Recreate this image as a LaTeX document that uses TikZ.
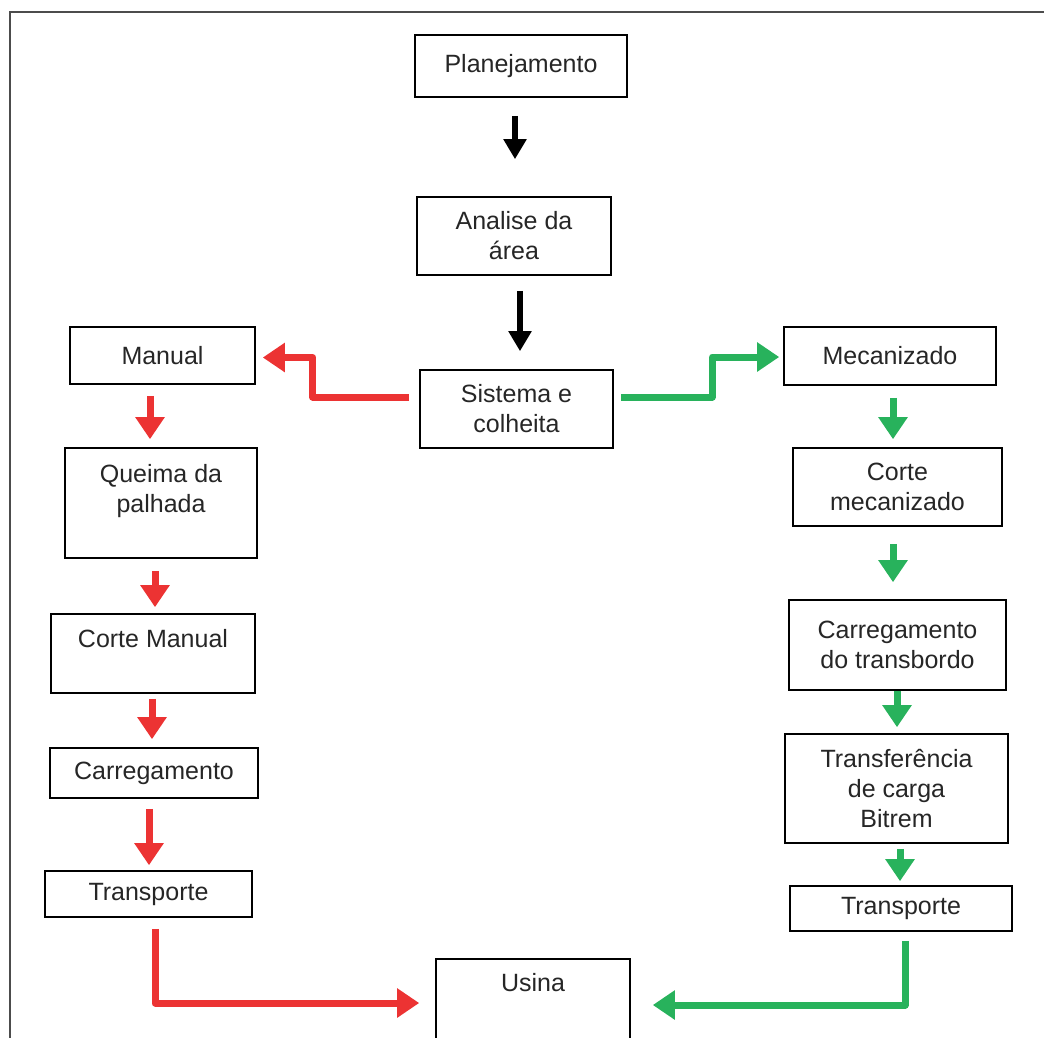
\documentclass[tikz,border=0pt]{standalone}
\usepackage{fontspec}
\setmainfont{Liberation Sans}
\usetikzlibrary{arrows.meta}
\definecolor{redline}{RGB}{236,51,51}
\definecolor{greenline}{RGB}{40,178,92}

\begin{document}
\begin{tikzpicture}[x=1pt, y=-1pt,
   stepbox/.style={draw, line width=1.6pt, align=center, inner sep=0pt,
                   font=\fontsize{25}{30}\selectfont, text=black!85},
   blackarrow/.style={line width=6pt, -{Triangle[width=22pt,length=20pt]}},
   redarrow/.style={draw=redline, line width=7pt, line join=round,
                    -{Triangle[width=28pt,length=22pt]}},
   greenarrow/.style={draw=greenline, line width=7pt, line join=round,
                      -{Triangle[width=28pt,length=22pt]}}]

\clip (0,0) rectangle (1044,1037);
\draw[line width=1.6pt, black!70] (10,1050) |- (1060,12);

% centre column
\node[stepbox, minimum width=212pt, minimum height=62pt] (pla) at (521,66) {Planejamento};
\node[stepbox, minimum width=194pt, minimum height=78pt] (ana) at (514,236) {Analise da\\área};
\node[stepbox, minimum width=193pt, minimum height=78pt] (sis) at (516.5,409) {Sistema e\\colheita};
\node[stepbox, minimum width=194pt, minimum height=106pt] (usi) at (533,1012) {Usina\\ \\ };

% manual branch
\node[stepbox, minimum width=185pt, minimum height=57pt] (man) at (162.5,355.5) {Manual};
\node[stepbox, minimum width=192pt, minimum height=110pt] (que) at (161,503) {Queima da\\palhada\\ };
\node[stepbox, minimum width=204pt, minimum height=79pt] (cma) at (153,653.5) {Corte Manual\\ };
\node[stepbox, minimum width=208pt, minimum height=50pt] (car) at (154,773) {Carregamento};
\node[stepbox, minimum width=207pt, minimum height=46pt] (tra) at (148.5,894) {Transporte};

% mechanised branch
\node[stepbox, minimum width=212pt, minimum height=58pt] (mec) at (890,356) {Mecanizado};
\node[stepbox, minimum width=209pt, minimum height=78pt] (cme) at (897.5,487) {Corte\\mecanizado};
\node[stepbox, minimum width=217pt, minimum height=90pt] (ctr) at (897.5,645) {Carregamento\\do transbordo};
\node[stepbox, minimum width=223pt, minimum height=109pt] (tcb) at (896.5,788.5) {Transferência\\de carga\\Bitrem};
\node[stepbox, minimum width=222pt, minimum height=45pt] (trr) at (901,908.5) {Transporte};

% connectors
\draw[blackarrow, shorten <=18pt, shorten >=37pt] (pla.south -| 515,0) -- (ana.north -| 515,0);
\draw[blackarrow, shorten <=15pt, shorten >=18pt] (ana.south -| 520,0) -- (sis.north -| 520,0);

\draw[redarrow] ([xshift=-10pt,yshift=12pt]sis.west) -| ([xshift=57pt,yshift=-2pt]man.east)
   -- ([xshift=7pt,yshift=-2pt]man.east);
\draw[greenarrow] ([xshift=7pt,yshift=12pt]sis.east) -| ([xshift=-71pt,yshift=-1pt]mec.west)
   -- ([xshift=-4pt,yshift=-1pt]mec.west);

\draw[redarrow, shorten <=11pt, shorten >=8pt] (man.south -| 150,0) -- (que.north -| 150,0);
\draw[redarrow, shorten <=12pt, shorten >=6pt] (que.south -| 155,0) -- (cma.north -| 155,0);
\draw[redarrow, shorten <=5pt, shorten >=8pt] (cma.south -| 152,0) -- (car.north -| 152,0);
\draw[redarrow, shorten <=10pt, shorten >=5pt] (car.south -| 149,0) -- (tra.north -| 149,0);
\draw[redarrow, shorten <=11pt] (tra.south -| 155,0) |- ([xshift=-16pt,yshift=9pt]usi.west);

\draw[greenarrow, shorten <=12pt, shorten >=8pt] (mec.south -| 893,0) -- (cme.north -| 893,0);
\draw[greenarrow, shorten <=17pt, shorten >=17pt] (cme.south -| 893,0) -- (ctr.north -| 893,0);
\draw[greenarrow, shorten >=6pt] (ctr.south -| 897,0) -- (tcb.north -| 897,0);
\draw[greenarrow, shorten <=5pt, shorten >=4pt] (tcb.south -| 900,0) -- (trr.north -| 900,0);
\draw[greenarrow, shorten <=9pt] (trr.south -| 905,0) |- ([xshift=22pt,yshift=7pt]usi.east);

\end{tikzpicture}
\end{document}
